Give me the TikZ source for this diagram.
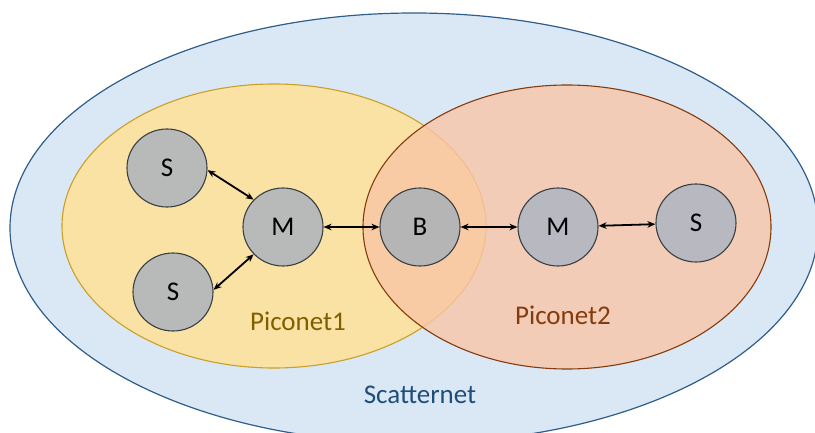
\documentclass[tikz,border=0pt]{standalone}
\usepackage{fontspec}
\setmainfont{Carlito}
\usetikzlibrary{shapes.geometric,arrows.meta}

\definecolor{scatterfill}{RGB}{218,232,246}
\definecolor{scatterline}{RGB}{46,94,138}
\definecolor{scattertext}{RGB}{31,78,121}
\definecolor{pico1fill}{RGB}{249,226,163}
\definecolor{pico1line}{RGB}{201,160,40}
\definecolor{pico1text}{RGB}{127,96,0}
\definecolor{pico2fill}{RGB}{249,198,166}
\definecolor{pico2line}{RGB}{132,60,12}
\definecolor{pico2text}{RGB}{132,60,12}
\definecolor{devline}{RGB}{58,63,68}
\definecolor{grayA}{RGB}{183,186,184}
\definecolor{grayB}{RGB}{181,181,182}
\definecolor{grayC}{RGB}{184,184,192}

\tikzset{
  device/.style={ellipse, draw=devline, line width=1.1pt, minimum width=80pt,
    minimum height=78pt, inner sep=0pt, font=\fontsize{27}{32}\selectfont},
  link/.style={line width=1.8pt, black, {Stealth[length=8pt,width=6.5pt]}-{Stealth[length=8pt,width=6.5pt]}},
  netlabel/.style={font=\fontsize{27}{32}\selectfont, inner sep=0pt}
}

\begin{document}
\begin{tikzpicture}[x=1pt,y=-1pt]
\useasboundingbox (0,0) rectangle (815,433);

% scatternet
\begin{scope}
  \clip (0,0) rectangle (815,433);
  \filldraw[fill=scatterfill, draw=scatterline, line width=1.2pt]
    (414,228) ellipse [x radius=404pt, y radius=215pt];
\end{scope}

% piconet 1
\filldraw[fill=pico1fill, draw=pico1line, line width=1.1pt]
  (274,226) ellipse [x radius=212pt, y radius=142pt];

% piconet 2 (semi-transparent over piconet 1)
\filldraw[fill=pico2fill, fill opacity=0.8, draw=pico2line, line width=1.1pt]
  (567,227) ellipse [x radius=204pt, y radius=142pt];

% devices
\node[device, fill=grayA] (s1) at (167,168) {S};
\node[device, fill=grayA] (s2) at (173,292) {S};
\node[device, fill=grayA] (m1) at (283,227) {M};
\node[device, fill=grayB] (b)  at (420,227) {B};
\node[device, fill=grayC] (m2) at (558,227) {M};
\node[device, fill=grayC] (s3) at (696,223) {S};

% links
\draw[link] (s1.-3) -- (m1.137);
\draw[link] (s2.3) -- (m1.223);
\draw[link] (m1) -- (b);
\draw[link] (b) -- (m2);
\draw[link] (m2) -- (s3);

% labels
\node[netlabel, text=pico1text] (lp1) at (298,321) {Piconet1};
\node[netlabel, text=pico2text] (lp2) at (563,315) {Piconet2};
\node[netlabel, text=scattertext] (ls) at (420,395) {Scatternet};
\end{tikzpicture}
\end{document}
